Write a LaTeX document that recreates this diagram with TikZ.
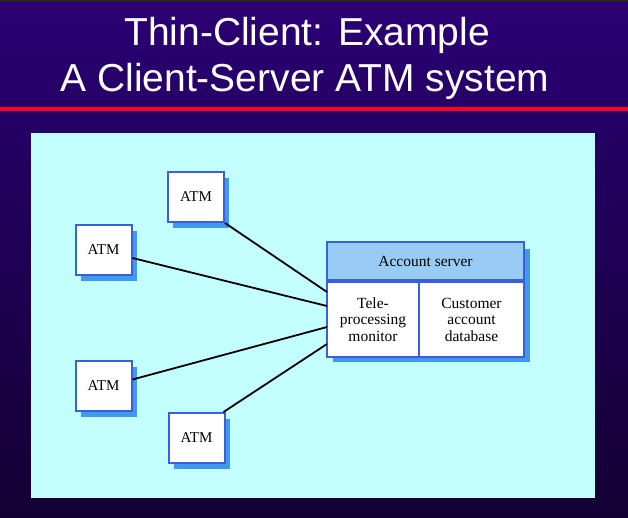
\documentclass[tikz,border=0pt]{standalone}
\usepackage{fontspec}
\setmainfont{Liberation Serif}
\newfontfamily\titlefont{Liberation Sans}
\usetikzlibrary{shadows}
\definecolor{bgtop}{HTML}{2B0074}
\definecolor{bgbot}{HTML}{130033}
\definecolor{panel}{HTML}{C4FFFF}
\definecolor{boxblue}{HTML}{3A5FDD}
\definecolor{shadowblue}{HTML}{3F99EE}
\definecolor{headblue}{HTML}{99CCF5}
\definecolor{redline}{HTML}{FF0022}
\tikzset{
  atmbox/.style={draw=boxblue, line width=2pt, fill=white, minimum width=56pt, minimum height=50pt,
    inner sep=0pt, font=\fontsize{15}{16}\selectfont,
    drop shadow={shadow xshift=5pt, shadow yshift=-6pt, fill=shadowblue, opacity=1}},
  cell/.style={draw=boxblue, line width=2pt, fill=white, inner sep=0pt, align=center,
    font=\fontsize{15.5}{16.5}\selectfont},
  titletext/.style={text=white, font=\titlefont\fontsize{39}{40}\selectfont, anchor=base},
  link/.style={draw=black, line width=1.8pt}
}
\begin{document}
\begin{tikzpicture}[x=1pt,y=1pt]
\useasboundingbox (0,0) rectangle (628,-517);
\shade[top color=bgtop, bottom color=bgbot] (0,0) rectangle (628,-517);
\fill[black!85] (0,0) rectangle (628,-2);
\fill[redline] (0,-106.5) rectangle (628,-110.5);
\node[titletext] (t1) at (307,-45) {Thin-Client: Example};
\node[titletext] (t2) at (305,-91) {A Client-Server ATM system};
\fill[panel] (31,-133) rectangle (595,-498);

% ATMs
\node[atmbox] (atm1) at (196,-197) {ATM};
\node[atmbox] (atm2) at (103.5,-250) {ATM};
\node[atmbox] (atm3) at (103.5,-385.5) {ATM};
\node[atmbox] (atm4) at (196.5,-438) {ATM};

% server
\node[draw=boxblue, line width=2pt, fill=white, minimum width=197pt, minimum height=113pt, inner sep=0pt,
  drop shadow={shadow xshift=6pt, shadow yshift=-7pt, fill=shadowblue, opacity=1}]
  (server) at (425.5,-298.5) {};
\node[cell, fill=headblue, minimum width=197pt, minimum height=38pt, anchor=north west] (head)
  at (server.north west) {Account server};
\node[cell, minimum width=92pt, minimum height=75pt, anchor=north west] (tpm)
  at (head.south west) {Tele-\\processing\\monitor};
\node[cell, minimum width=105pt, minimum height=75pt, anchor=north east] (db)
  at (head.south east) {Customer\\account\\database};

\coordinate (e1) at (327,-292);
\coordinate (e2) at (327,-306);
\coordinate (e3) at (327,-327);
\coordinate (e4) at (327,-344);
\coordinate (s2) at ([yshift=-8pt]atm2.east);
\coordinate (s3) at ([yshift=6pt]atm3.east);
\draw[link] (atm1.south east) -- (e1);
\draw[link] (s2) -- (e2);
\draw[link] (s3) -- (e3);
\draw[link] ([xshift=-2pt]atm4.north east) -- (e4);
\end{tikzpicture}
\end{document}
